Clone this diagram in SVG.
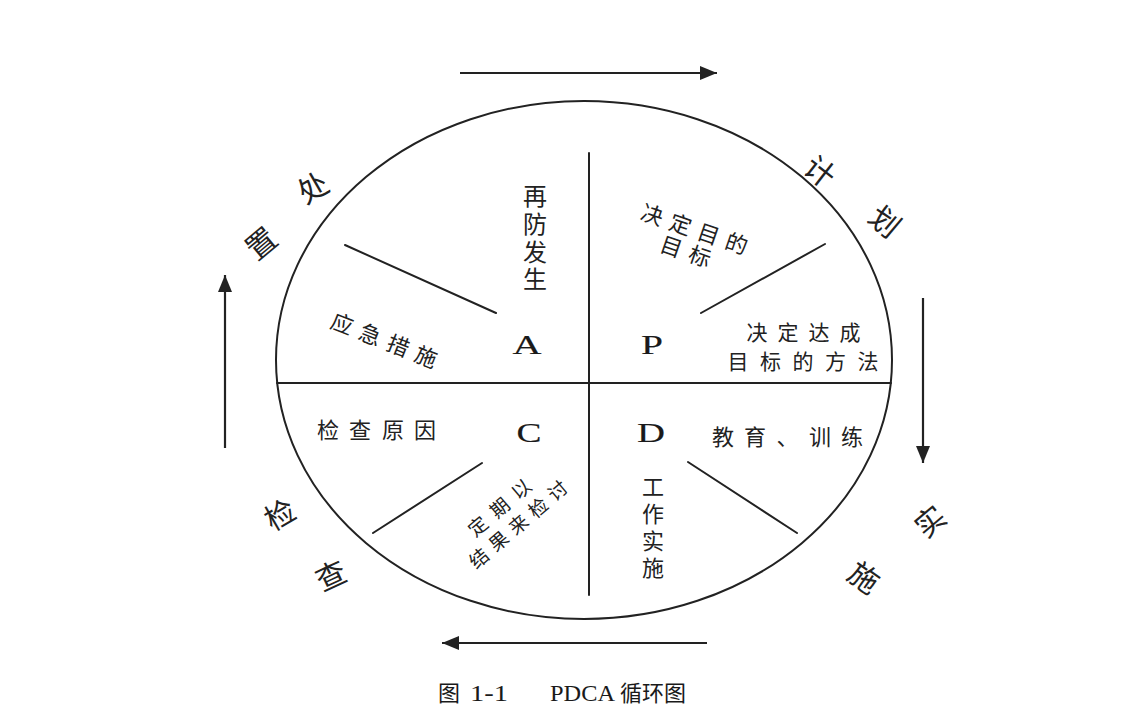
<svg xmlns="http://www.w3.org/2000/svg" width="1138" height="708" viewBox="0 0 1138 708">
<defs>
<style>
.ln{stroke:#222;stroke-width:2;fill:none;stroke-linecap:round}
.arr{stroke:#222;stroke-width:2.2;fill:none}
.cj{font-family:"Noto Sans CJK SC","Noto Sans",sans-serif;fill:#222;text-anchor:middle;dominant-baseline:central}
.t22{font-size:22px}
.t21{font-size:21px}
.t24{font-size:24px}
.t19{font-size:19px}
.big{font-size:30px}
.let{font-family:"Liberation Serif","DejaVu Serif",serif;font-size:27px;fill:#1a1a1a;stroke:#1a1a1a;stroke-width:0.15;text-anchor:middle}
.cap{font-family:"Noto Sans CJK SC",sans-serif;font-size:22px;fill:#1a1a1a}
.capm{font-family:"Liberation Serif","DejaVu Serif",serif;font-size:24px;fill:#1a1a1a}
</style>
<marker id="ah" markerUnits="userSpaceOnUse" markerWidth="18" markerHeight="14" refX="17" refY="7" orient="auto">
<path d="M0,0 L17,7 L0,14 z" fill="#222"/>
</marker>
</defs>
<rect width="1138" height="708" fill="#ffffff"/>

<g id="connectors">
<line class="arr" x1="460" y1="73" x2="717" y2="73" marker-end="url(#ah)"/>
<line class="arr" x1="923" y1="298" x2="923" y2="463" marker-end="url(#ah)"/>
<line class="arr" x1="707" y1="643" x2="442" y2="643" marker-end="url(#ah)"/>
<line class="arr" x1="225" y1="448" x2="225" y2="275" marker-end="url(#ah)"/>
</g>

<g id="cycle">
<ellipse class="ln" cx="584" cy="360" rx="308" ry="259"/>
<line class="ln" x1="277" y1="383" x2="891" y2="383"/>
<line class="ln" x1="589" y1="153" x2="589" y2="595"/>
</g>

<g id="quadrant-A">
<line class="ln" x1="345" y1="245" x2="496" y2="313"/>
<text class="let" x="527" y="354" textLength="29" lengthAdjust="spacingAndGlyphs">A</text>
<text class="cj t24" x="535 535 535 535" y="194 222 250 277">再防发生</text>
<text class="cj t22" transform="translate(343,322) rotate(21.5)" x="0 30 60 90" y="0">应急措施</text>
</g>

<g id="quadrant-P">
<line class="ln" x1="825" y1="244" x2="701" y2="313"/>
<text class="let" x="652" y="354" textLength="22" lengthAdjust="spacingAndGlyphs">P</text>
<g transform="translate(653,213) rotate(19)">
<text class="cj t22" x="0 29.7 59.4 89.1" y="0">决定目的</text>
<text class="cj t22" x="28.4 58.4" y="24">目标</text>
</g>
<text class="cj t21" x="757 788 819 850" y="331">决定达成</text>
<text class="cj t21" x="738 770.5 803 835.5 868" y="360">目标的方法</text>
</g>

<g id="quadrant-D">
<line class="ln" x1="688" y1="462" x2="797" y2="533"/>
<text class="let" x="651" y="442" textLength="28" lengthAdjust="spacingAndGlyphs">D</text>
<text class="cj t22" x="723 755 787.5 820 852" y="435">教育、训练</text>
<text class="cj t22" x="653 653 653 653" y="485 512 539 566">工作实施</text>
</g>

<g id="quadrant-C">
<line class="ln" x1="373" y1="533" x2="482" y2="463"/>
<text class="let" x="529" y="442" textLength="25" lengthAdjust="spacingAndGlyphs">C</text>
<text class="cj t22" x="328 360 393 425" y="428">检查原因</text>
<g transform="translate(477,525) rotate(-40.5)">
<text class="cj t19" x="0 28.4 56.8" y="0">定期以</text>
<text class="cj t19" x="-20 5.9 31.8 57.7 83.6" y="25">结果来检讨</text>
</g>
</g>

<g id="label-plan">
<text class="cj big" transform="translate(821,170) rotate(38)" x="0" y="0">计</text>
<text class="cj big" transform="translate(886,220) rotate(40)" x="0" y="0">划</text>
</g>
<g id="label-do">
<text class="cj big" transform="translate(929,520) rotate(-40)" x="0" y="0">实</text>
<text class="cj big" transform="translate(865,576) rotate(35)" x="0" y="0">施</text>
</g>
<g id="label-check">
<text class="cj big" transform="translate(279,513) rotate(-30)" x="0" y="0">检</text>
<text class="cj big" transform="translate(330,574) rotate(-25)" x="0" y="0">查</text>
</g>
<g id="label-act">
<text class="cj big" transform="translate(312,186) rotate(-30)" x="0" y="0">处</text>
<text class="cj big" transform="translate(260,242) rotate(-40)" x="0" y="0">置</text>
</g>

<g id="caption">
<text class="cap" x="438" y="701">图</text>
<text class="capm" x="470" y="701" textLength="38" lengthAdjust="spacingAndGlyphs">1-1</text>
<text class="capm" x="550" y="701" textLength="65" lengthAdjust="spacingAndGlyphs">PDCA</text>
<text class="cap" x="620" y="701">循环图</text>
</g>
</svg>
